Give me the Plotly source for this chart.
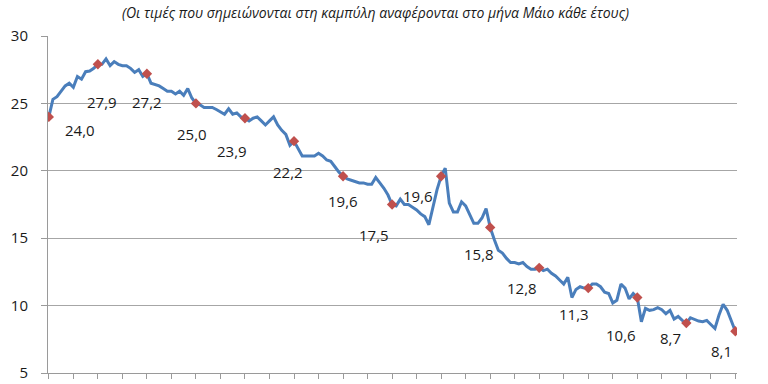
import plotly.graph_objects as go

# Monthly values (May of first year .. May of last year)
values = [
    24.0, 25.3, 25.5, 25.9, 26.3, 26.5, 26.2, 27.0, 26.8, 27.35, 27.4, 27.6,
    27.9, 27.9, 28.3, 27.8, 28.1, 27.9, 27.8, 27.8, 27.6, 27.3, 27.5, 27.0,
    27.2, 26.5, 26.4, 26.3, 26.1, 25.9, 25.9, 25.7, 25.9, 25.6, 26.1, 25.4,
    25.0, 24.9, 24.7, 24.7, 24.7, 24.55, 24.4, 24.2, 24.6, 24.2, 24.3, 24.0,
    23.9, 23.7, 23.9, 24.0, 23.7, 23.4, 23.7, 24.0, 23.4, 23.0, 22.7, 21.9,
    22.2, 21.7, 21.1, 21.1, 21.1, 21.1, 21.3, 21.1, 20.8, 20.7, 20.3, 19.9,
    19.6, 19.4, 19.3, 19.2, 19.1, 19.1, 19.0, 19.0, 19.5, 19.1, 18.7, 18.2,
    17.5, 17.4, 17.9, 17.5, 17.5, 17.3, 17.1, 16.8, 16.6, 16.0, 17.3, 18.6,
    19.6, 20.2, 17.6, 16.95, 16.95, 17.7, 17.4, 16.8, 16.1, 16.1, 16.5, 17.2,
    15.8, 14.9, 14.1, 13.9, 13.5, 13.2, 13.2, 13.1, 13.2, 12.9, 12.7, 12.7,
    12.8, 12.6, 12.7, 12.4, 12.2, 11.9, 11.6, 12.1, 10.6, 11.2, 11.4, 11.3,
    11.3, 11.6, 11.6, 11.4, 11.0, 10.9, 10.2, 10.4, 11.6, 11.3, 10.5, 10.9,
    10.6, 8.8, 9.8, 9.65, 9.7, 9.85, 9.7, 9.4, 9.65, 9.0, 9.2, 8.9,
    8.7, 9.1, 8.95, 8.85, 8.8, 8.9, 8.6, 8.3, 9.3, 10.1, 9.65, 8.9,
    8.1,
]
months = list(range(len(values)))
may_idx = list(range(0, len(values), 12))
may_vals = [values[i] for i in may_idx]
may_text = [f"{v:.1f}".replace(".", ",") for v in may_vals]

y_ticks = [5, 10, 15, 20, 25, 30]
subtitle = "(Οι τιμές που σημειώνονται στη καμπύλη αναφέρονται στο μήνα Μάιο κάθε έτους)"

# label offsets (pixels) from each May marker
label_dx = [31, 4, 0, -4, -13, -6, 0, -18, -23, -11, -17, -14, -16, -16, -14]
label_dy = [13, 38, 28, 31, 33, 31, 25, 30, 20, 27, 20, 26, 37, 15, 20]

fig = go.Figure()
fig.add_trace(go.Scatter(
    x=months, y=values, mode="lines",
    line=dict(color="#4A7EBB", width=3), hoverinfo="skip", showlegend=False,
))
fig.add_trace(go.Scatter(
    x=may_idx, y=may_vals, mode="markers",
    marker=dict(symbol="diamond", size=8, color="#C0504D"),
    showlegend=False,
))

for i, v, t, dx, dy in zip(may_idx, may_vals, may_text, label_dx, label_dy):
    fig.add_annotation(
        x=i, y=v, xref="x", yref="y", text=t, showarrow=False,
        xshift=dx, yshift=-dy,
        font=dict(family="Open Sans", size=15, color="#1a1a1a"),
    )

fig.add_annotation(
    x=0.475, y=1.071, xref="paper", yref="paper", text=f"<i>{subtitle}</i>",
    showarrow=False, xanchor="center", yanchor="middle",
    font=dict(family="Open Sans", size=14, color="#1a1a1a"),
)

fig.update_xaxes(
    range=[-0.2, 168.4], tickvals=list(range(0, 169, 6)), showticklabels=False,
    ticks="outside", ticklen=5, tickcolor="#9A9A9A", showgrid=False,
    showline=True, linecolor="#9A9A9A", linewidth=1, zeroline=False,
    automargin=False,
)
fig.update_yaxes(
    range=[5, 30], tickvals=y_ticks, ticks="outside", ticklen=6,
    tickcolor="#9A9A9A", showgrid=True, gridcolor="#A6A6A6", gridwidth=1,
    showline=True, linecolor="#9A9A9A", linewidth=1, zeroline=False,
    tickfont=dict(family="Open Sans", size=15, color="#1a1a1a"),
    ticklabelstandoff=10, automargin=False,
)
fig.update_layout(
    width=768, height=384, margin=dict(l=48, r=31, t=36, b=11),
    paper_bgcolor="white", plot_bgcolor="white",
)
fig.write_html("out.html")
